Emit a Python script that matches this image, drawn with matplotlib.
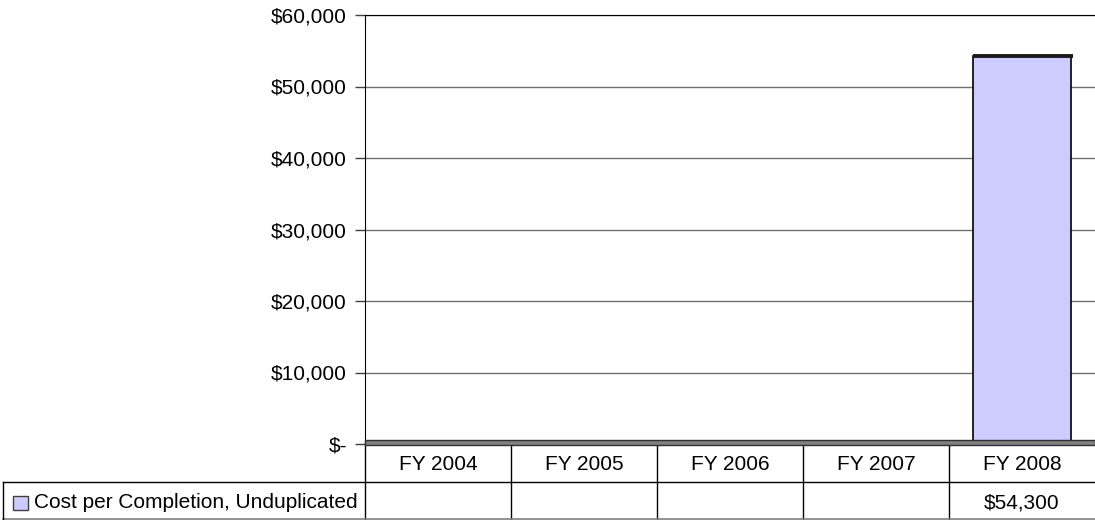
import numpy as np
import matplotlib.pyplot as plt
from matplotlib.patches import Rectangle
from matplotlib.ticker import FuncFormatter

plt.rcParams['font.family'] = ['Liberation Sans', 'DejaVu Sans']

years = ["FY 2004", "FY 2005", "FY 2006", "FY 2007", "FY 2008"]
cost = [np.nan, np.nan, np.nan, np.nan, 54300]
series_name = "Cost per Completion, Unduplicated"

bar_color = "#CCCCFF"
fs = 15

fig = plt.figure(figsize=(10.95, 5.2), dpi=100)
W, H = 1095, 520
ax = fig.add_axes([365 / W, (H - 444) / H, 730 / W, (444 - 15) / H])
ph = 444 - 15  # axes height in px

x = np.arange(len(years))
ax.set_xlim(-0.5, len(years) - 0.5)
ax.set_ylim(0, 60000)

# value axis
ax.set_yticks(np.arange(0, 60001, 10000))
ax.yaxis.set_major_formatter(FuncFormatter(lambda v, p: "$-" if v == 0 else f"${v:,.0f}"))
ax.tick_params(axis='y', length=7, width=1, color='#404040', pad=6, labelsize=fs)
ax.set_xticks([])
ax.grid(axis='y', color='#707070', lw=1)
ax.set_axisbelow(True)
for s in ['right', 'bottom']:
    ax.spines[s].set_visible(False)
ax.spines['top'].set_color('black')
ax.spines['left'].set_color('black')

# bars
w = 0.67
vals = np.nan_to_num(cost)
ax.bar(x, vals, width=w, color=bar_color, edgecolor='black', lw=1.2, zorder=3)
for xi, v in zip(x, cost):
    if not np.isnan(v):
        ax.hlines(v, xi - w / 2, xi + w / 2 + 0.012, color='#1a1a1a', lw=2.8, zorder=4)

# floor
ax.add_patch(Rectangle((0, -1 / ph), 1, 5 / ph, transform=ax.transAxes,
                       facecolor='#808080', edgecolor='#303030', lw=1,
                       clip_on=False, zorder=5))

# data table below the plot
row1 = -38 / ph
row2 = -75 / ph
leg_left = (3 - 365) / 730
xt = ax.get_xaxis_transform()
for i in range(len(years)):
    ax.plot([i - 0.5, i - 0.5], [0, row2], transform=xt, color='black', lw=1, clip_on=False)
ax.plot([leg_left, 1], [row1, row1], transform=ax.transAxes, color='black', lw=1, clip_on=False)
ax.plot([leg_left, 1], [row2, row2], transform=ax.transAxes, color='#808080', lw=1.2, clip_on=False)
ax.plot([leg_left, leg_left], [row1, row2], transform=ax.transAxes, color='black', lw=1, clip_on=False)

y_lab1 = -20 / ph
y_lab2 = -59 / ph
for xi, lab, v in zip(x, years, cost):
    ax.text(xi, y_lab1, lab, transform=xt, ha='center', va='center', fontsize=fs)
    if not np.isnan(v):
        ax.text(xi, y_lab2, f"${v:,.0f}", transform=xt,
                ha='center', va='center', fontsize=fs)

# legend key in the table
ax.add_patch(Rectangle(((13 - 365) / 730, y_lab2 - 7 / ph), 15 / 730, 14 / ph,
                       transform=ax.transAxes, facecolor=bar_color, edgecolor='#404040',
                       lw=1, clip_on=False))
ax.text((34 - 365) / 730, y_lab2, series_name, transform=ax.transAxes,
        ha='left', va='center', fontsize=fs)

fig.savefig("out.png", dpi=100)
